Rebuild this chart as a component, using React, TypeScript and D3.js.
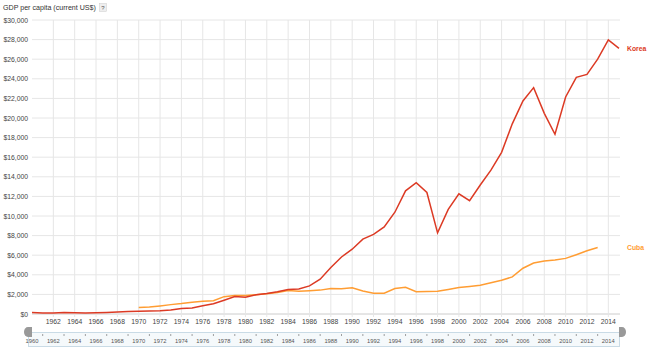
import React from "react";
import * as d3 from "d3";

const years: number[] = d3.range(1960, 2016);
const korea: number[] = [158, 94, 106, 146, 124, 108, 133, 161, 198, 244, 279, 301, 323, 406, 563, 617, 834, 1055, 1406, 1783, 1704, 1968, 2081, 2268, 2500, 2542, 2869, 3555, 4749, 5817, 6610, 7637, 8127, 8885, 10385, 12565, 13403, 12398, 8282, 10672, 12257, 11561, 13165, 14673, 16496, 19403, 21743, 23102, 20475, 18339, 22151, 24156, 24454, 25998, 27970, 27105];
const cubaYears: number[] = d3.range(1970, 2014);
const cuba: number[] = [653, 705, 826, 957, 1068, 1209, 1298, 1348, 1771, 1887, 1883, 1968, 2060, 2183, 2389, 2321, 2376, 2437, 2613, 2570, 2667, 2341, 2130, 2127, 2592, 2725, 2264, 2290, 2311, 2510, 2699, 2807, 2933, 3178, 3448, 3787, 4673, 5201, 5402, 5507, 5676, 6051, 6448, 6789];
const yTicks: number[] = d3.range(0, 30001, 2000);
const xTicks: number[] = d3.range(1962, 2015, 2);
const sliderTicks: number[] = d3.range(1960, 2015, 2);

const FONT = "'Liberation Sans', Arial, Helvetica, sans-serif";
const KOREA_COLOR = "#dc3a24";
const CUBA_COLOR = "#ff9d33";

export default function App() {
  const x = d3.scaleLinear().domain([1960, 2015]).range([32, 619]);
  const y = d3.scaleLinear().domain([0, 30000]).range([314, 20]);
  const fmt = (v: number) => "$" + d3.format(",")(v);

  const line = d3.line<[number, number]>().x((d) => x(d[0])).y((d) => y(d[1]));
  const kPath = line(years.map((yr, i) => [yr, korea[i]]) as [number, number][]) || "";
  const cPath = line(cubaYears.map((yr, i) => [yr, cuba[i]]) as [number, number][]) || "";

  return (
    <svg width={650} height={350} style={{ position: "absolute", left: 0, top: 0, background: "#fff" }} fontFamily={FONT}>
      <text x={3} y={10} fontSize={7.1} fill="#333">GDP per capita (current US$)</text>
      <rect x={99.5} y={3.5} width={7} height={8} fill="#eee" stroke="#ccc" strokeWidth={0.5} />
      <text x={103} y={10} fontSize={6} fill="#555" textAnchor="middle">?</text>

      {yTicks.map((t) => (
        <g key={"y" + t}>
          <line x1={32} x2={620} y1={y(t)} y2={y(t)} stroke={t === 0 ? "#ccc" : "#e6e6e6"} strokeWidth={1} />
          <text x={28} y={y(t) + 2.5} fontSize={6.8} fill="#444" textAnchor="end">{fmt(t)}</text>
        </g>
      ))}
      {xTicks.map((t) => (
        <g key={"x" + t}>
          <line x1={x(t)} x2={x(t)} y1={20} y2={317} stroke="#e6e6e6" strokeWidth={1} />
          <text x={x(t)} y={324} fontSize={6.8} fill="#444" textAnchor="middle">{t}</text>
        </g>
      ))}

      <path d={cPath} fill="none" stroke={CUBA_COLOR} strokeWidth={1.5} />
      <path d={kPath} fill="none" stroke={KOREA_COLOR} strokeWidth={1.5} />

      <text x={627} y={y(korea[korea.length - 1]) + 2.5} fontSize={6.8} fontWeight="bold" fill={KOREA_COLOR}>Korea</text>
      <text x={627} y={y(cuba[cuba.length - 1]) + 2.5} fontSize={6.8} fontWeight="bold" fill={CUBA_COLOR}>Cuba</text>

      <rect x={28.5} y={332.5} width={591} height={14} fill="#f5f9fb" stroke="#c9dbe6" strokeWidth={1} />
      {sliderTicks.map((t) => (
        <g key={"s" + t}>
          <text x={x(t)} y={343} fontSize={5.8} fill="#555" textAnchor="middle">{t}</text>
          {t < 2014 && <line x1={x(t + 1)} x2={x(t + 1)} y1={334} y2={336} stroke="#888" strokeWidth={0.8} />}
        </g>
      ))}
      <path d={`M${x(1960) - 4},327 h4 v10 h-4 a4,5 0 0 1 0,-10z`} fill="#999" />
      <path d={`M${x(2015)},327 h3 a4,5 0 0 1 0,10 h-3z`} fill="#999" />
    </svg>
  );
}
